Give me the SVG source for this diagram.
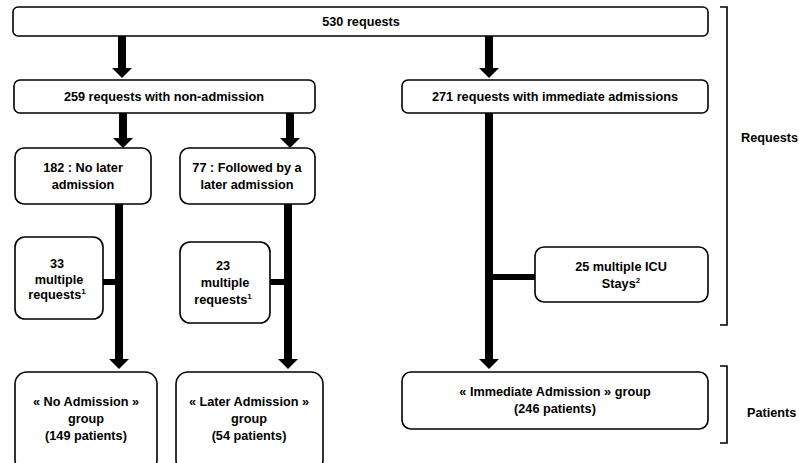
<svg xmlns="http://www.w3.org/2000/svg" width="799" height="463" viewBox="0 0 799 463">
<defs>
<style>
.box{fill:#fff;stroke:#000;stroke-width:1.6}
.t{font-family:"Liberation Sans",Arial,sans-serif;font-weight:bold;font-size:12.7px;fill:#000;text-anchor:middle}
.lbl{font-family:"Liberation Sans",Arial,sans-serif;font-weight:bold;font-size:12.7px;fill:#000}
.c{stroke:#000;stroke-width:8;fill:none}
.br{stroke:#000;stroke-width:1.6;fill:none}
</style>
<marker id="a" markerUnits="userSpaceOnUse" markerWidth="20" markerHeight="10" viewBox="-10 0 20 10" refX="0" refY="0" orient="0" overflow="visible">
<path d="M-10,0 L10,0 L0,10 Z" fill="#000"/>
</marker>
</defs>
<g id="connectors">
<line class="c" x1="122" y1="36" x2="122" y2="68" marker-end="url(#a)"/>
<line class="c" x1="489" y1="36" x2="489" y2="68" marker-end="url(#a)"/>
<line class="c" x1="123" y1="113" x2="123" y2="138" marker-end="url(#a)"/>
<line class="c" x1="290" y1="113" x2="290" y2="138" marker-end="url(#a)"/>
<line class="c" x1="119" y1="204" x2="119" y2="359" marker-end="url(#a)"/>
<line class="c" x1="288" y1="204" x2="288" y2="359" marker-end="url(#a)"/>
<line class="c" x1="489" y1="113" x2="489" y2="359" marker-end="url(#a)"/>
<line x1="103" y1="282" x2="119" y2="282" stroke="#000" stroke-width="6"/>
<line x1="270" y1="282" x2="288" y2="282" stroke="#000" stroke-width="6"/>
<line x1="489" y1="277" x2="535" y2="277" stroke="#000" stroke-width="6"/>
</g>
<g id="n530">
<rect class="box" x="13" y="7" width="695" height="29" rx="5"/>
<text class="t" x="361" y="26">530 requests</text>
</g>
<g id="n259">
<rect class="box" x="14" y="80" width="301" height="33" rx="6"/>
<text class="t" x="164" y="101">259 requests with non-admission</text>
</g>
<g id="n271">
<rect class="box" x="402" y="80" width="306" height="33" rx="6"/>
<text class="t" x="555" y="101">271 requests with immediate admissions</text>
</g>
<g id="n182">
<rect class="box" x="15" y="148" width="136" height="56" rx="9"/>
<text class="t" x="83" y="172">182 : No later</text>
<text class="t" x="83" y="189">admission</text>
</g>
<g id="n77">
<rect class="box" x="180" y="148" width="135" height="56" rx="9"/>
<text class="t" x="247" y="172">77 : Followed by a</text>
<text class="t" x="247" y="189">later admission</text>
</g>
<g id="n33">
<rect class="box" x="15" y="237" width="88" height="82" rx="10"/>
<text class="t" x="57" y="268">33</text>
<text class="t" x="59" y="284">multiple</text>
<text class="t" x="57" y="299">requests<tspan font-size="8" dy="-5">1</tspan></text>
</g>
<g id="n23">
<rect class="box" x="180" y="242" width="90" height="81" rx="10"/>
<text class="t" x="223" y="270">23</text>
<text class="t" x="225" y="287">multiple</text>
<text class="t" x="223" y="304">requests<tspan font-size="8" dy="-5">1</tspan></text>
</g>
<g id="n25">
<rect class="box" x="535" y="247" width="173" height="55" rx="9"/>
<text class="t" x="621" y="271">25 multiple ICU</text>
<text class="t" x="621" y="288">Stays<tspan font-size="8" dy="-5">2</tspan></text>
</g>
<g id="nNo">
<rect class="box" x="15" y="372" width="142" height="100" rx="12"/>
<text class="t" x="86" y="406">« No Admission »</text>
<text class="t" x="86" y="423">group</text>
<text class="t" x="86" y="440">(149 patients)</text>
</g>
<g id="nLater">
<rect class="box" x="176" y="372" width="147" height="100" rx="12"/>
<text class="t" x="249" y="406">« Later Admission »</text>
<text class="t" x="249" y="423">group</text>
<text class="t" x="249" y="440">(54 patients)</text>
</g>
<g id="nImm">
<rect class="box" x="402" y="372" width="306" height="57" rx="9"/>
<text class="t" x="555" y="396">« Immediate Admission » group</text>
<text class="t" x="555" y="413">(246 patients)</text>
</g>
<g id="brackets">
<path class="br" d="M720,7 H727 V325 H720"/>
<path class="br" d="M720,366 H727 V443 H720"/>
<text class="lbl" x="741" y="142">Requests</text>
<text class="lbl" x="747" y="417">Patients</text>
</g>
</svg>
